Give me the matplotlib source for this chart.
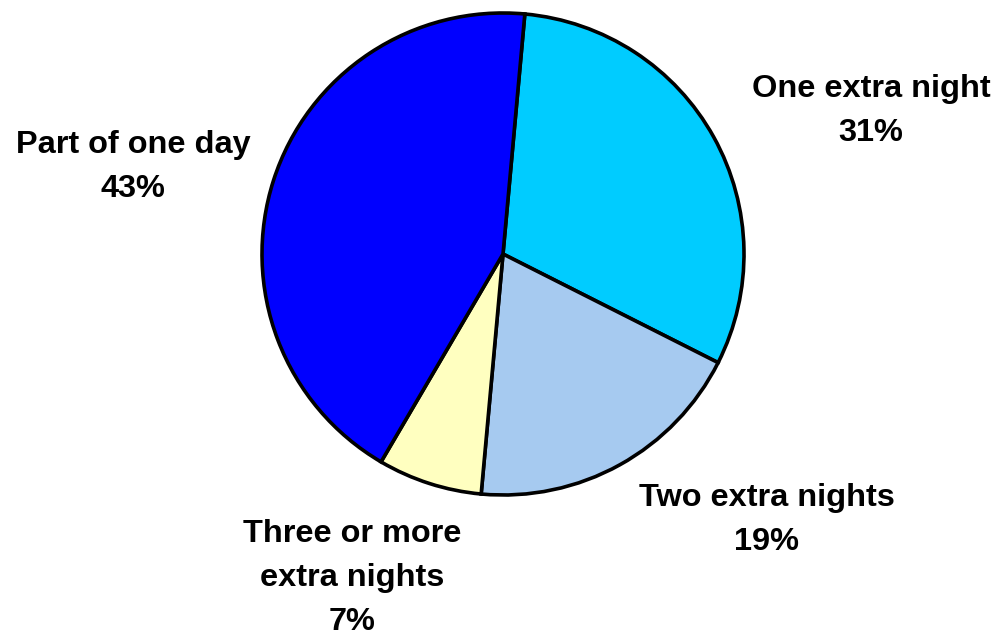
import matplotlib
matplotlib.use("Agg")
import matplotlib.pyplot as plt

labels = ["One extra night", "Two extra nights", "Three or more\nextra nights", "Part of one day"]
values = [31, 19, 7, 43]
colors = ["#00CCFF", "#A6CAF0", "#FFFFC0", "#0000FF"]

W, H = 1007, 640
fig = plt.figure(figsize=(W / 100, H / 100), dpi=100)
ax = fig.add_axes([0, 0, 1, 1])

cx, cy, r = 503, H - 254, 241
ax.pie(values, colors=colors, startangle=84.8, counterclock=False,
       center=(cx, cy), radius=r, frame=True,
       wedgeprops=dict(edgecolor="black", linewidth=2.6))
ax.set_xlim(0, W)
ax.set_ylim(0, H)
ax.set_aspect("equal")
ax.axis("off")

label_pos = [(871, H - 111), (767, H - 520), (352, H - 578), (133, H - 167)]
for lab, v, (x, y) in zip(labels, values, label_pos):
    ax.text(x, y, f"{lab}\n{v}%", ha="center", va="center", fontsize=23.4,
            fontweight="bold", family=["Liberation Sans", "DejaVu Sans"],
            linespacing=1.63)

fig.savefig("out.png", dpi=100)
